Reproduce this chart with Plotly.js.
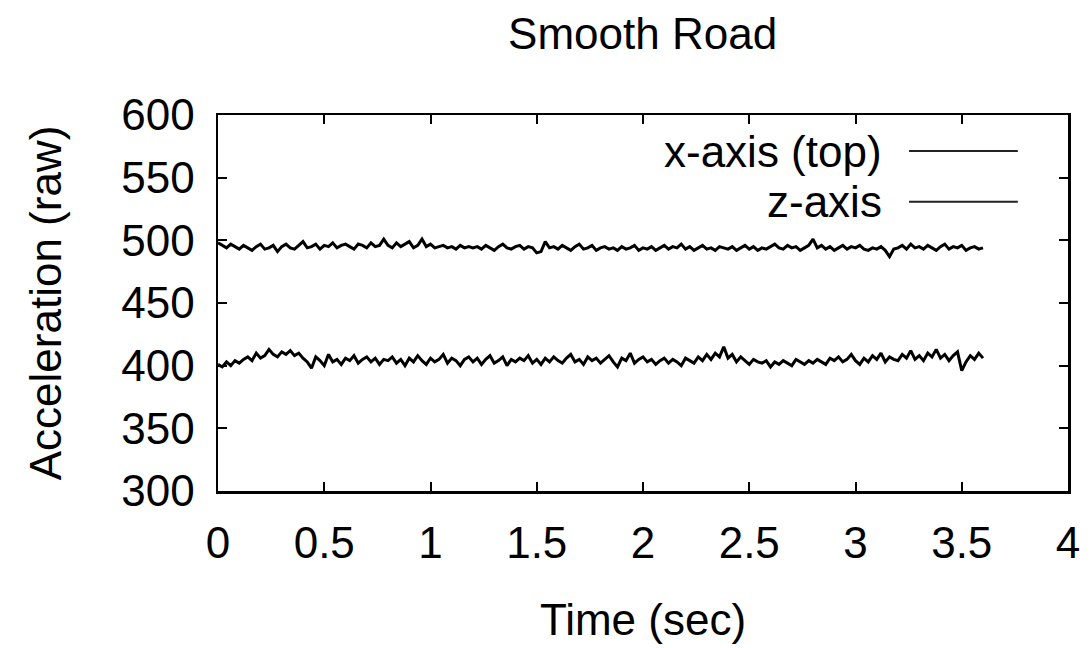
<!DOCTYPE html>
<html>
<head>
<meta charset="utf-8">
<script src="https://cdn.plot.ly/plotly-3.0.1.min.js"></script>
<style>html,body{margin:0;padding:0;background:#fff;}#chart{width:1091px;height:648px;}</style>
</head>
<body>
<div id="chart"></div>
<script>
// sampling interval (sec) and series values
const sampleStep = 0.02;
const seriesNames = ["x-axis (top)", "z-axis"];
const xAxisTop = [
498,496,494,497,495,493,496,494,492,495,497,493,494,496,491,495,497,494,493,496,
499,494,495,497,493,496,495,498,494,496,497,495,493,497,496,494,498,495,496,501,
496,494,498,495,497,499,494,496,501,495,497,494,495,496,494,495,493,496,494,495,
494,495,493,496,494,492,495,497,494,493,495,496,493,495,494,490,491,499,494,495,
493,496,494,492,495,497,493,494,496,492,494,495,493,494,492,495,493,494,496,492,
494,493,495,492,494,496,493,495,494,497,493,495,492,494,496,493,494,492,495,494,
493,495,492,494,496,493,495,492,494,493,495,497,494,493,496,494,495,492,494,496,
501,494,496,493,495,492,494,496,493,495,494,496,493,492,494,493,495,492,487,493,
494,496,493,497,494,495,493,496,494,492,495,497,493,495,494,496,492,494,495,493,
494];
const zAxis = [
401,399,403,400,404,402,405,407,404,410,406,408,413,409,407,411,409,412,408,410,
406,403,398,407,404,400,409,403,405,401,406,404,408,402,405,407,403,406,401,405,
404,407,402,405,400,406,403,408,404,401,406,403,405,409,402,406,404,400,405,407,
403,406,401,405,408,402,404,407,400,405,403,406,404,408,402,405,401,406,403,407,
404,402,406,409,403,405,401,407,404,406,402,405,408,403,399,406,404,410,402,405,
407,403,405,401,404,406,402,405,403,400,406,404,402,407,404,409,405,410,407,415,
406,409,403,407,404,401,405,403,402,404,399,403,401,404,402,400,405,403,401,404,
402,405,403,401,406,404,407,403,405,409,404,401,406,403,408,405,410,403,407,405,
404,409,406,412,405,408,404,410,407,413,406,409,404,408,411,396,403,408,405,410,
406];
const xTickVals = [0,0.5,1,1.5,2,2.5,3,3.5,4];
const xTickText = ["0","0.5","1","1.5","2","2.5","3","3.5","4"];
const yTickVals = [300,350,400,450,500,550,600];

const time = xAxisTop.map((_, i) => +(i * sampleStep).toFixed(3));

const FONT = "Liberation Sans, Arial, Helvetica, sans-serif";
const traces = [
  {x: time, y: xAxisTop, type: "scatter", mode: "lines", name: seriesNames[0],
   line: {color: "#000", width: 3}, showlegend: false},
  {x: time, y: zAxis, type: "scatter", mode: "lines", name: seriesNames[1],
   line: {color: "#000", width: 3}, showlegend: false}
];

const legendX0 = 0.813, legendX1 = 0.941, legendTextX = 0.783;
const legendY = [0.904, 0.769];

const layout = {
  width: 1091, height: 648,
  margin: {l: 218, r: 23, t: 115, b: 157},
  paper_bgcolor: "#fff", plot_bgcolor: "#fff",
  font: {family: FONT, size: 44, color: "#000"},
  title: {text: "Smooth Road", x: 0.589, xanchor: "center", y: 0.948, yanchor: "middle",
          font: {family: FONT, size: 44, color: "#000"}},
  xaxis: {
    range: [0, 4], tickvals: xTickVals, ticktext: xTickText,
    ticks: "inside", ticklen: 9, tickwidth: 2, tickcolor: "#000",
    showline: true, linewidth: 2.5, linecolor: "#000", mirror: "ticks",
    showgrid: false, zeroline: false, ticklabelstandoff: 12,
    tickfont: {family: FONT, size: 44, color: "#000"},
    title: {text: "Time (sec)", standoff: 38, font: {family: FONT, size: 44, color: "#000"}}
  },
  yaxis: {
    range: [300, 600], tickvals: yTickVals,
    ticks: "inside", ticklen: 9, tickwidth: 2, tickcolor: "#000",
    showline: true, linewidth: 2.5, linecolor: "#000", mirror: "ticks",
    showgrid: false, zeroline: false, ticklabelstandoff: 12,
    tickfont: {family: FONT, size: 44, color: "#000"},
    title: {text: "Acceleration (raw)", standoff: 46, font: {family: FONT, size: 44, color: "#000"}}
  },
  annotations: seriesNames.map((n, i) => ({
    text: n, xref: "paper", yref: "paper", x: legendTextX, y: legendY[i],
    xanchor: "right", yanchor: "middle", showarrow: false,
    font: {family: FONT, size: 44, color: "#000"}
  })),
  shapes: seriesNames.map((n, i) => ({
    type: "line", xref: "paper", yref: "paper",
    x0: legendX0, x1: legendX1, y0: legendY[i], y1: legendY[i],
    line: {color: "#222", width: 2}
  }))
};

Plotly.newPlot("chart", traces, layout, {displayModeBar: false, staticPlot: true});
</script>
</body>
</html>
